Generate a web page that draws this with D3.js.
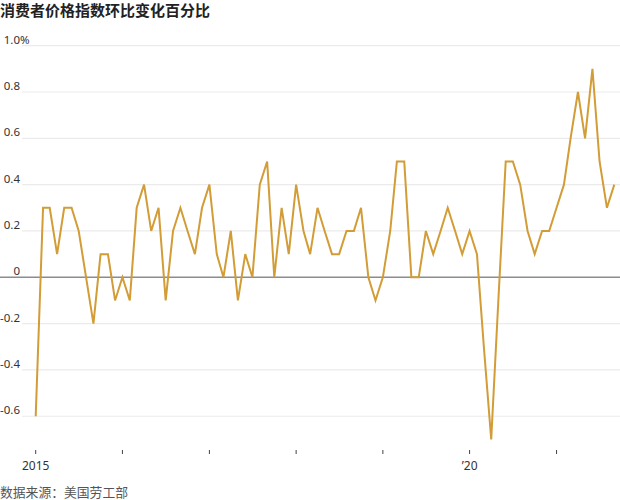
<!DOCTYPE html>
<html>
<head>
<meta charset="utf-8">
<script src="https://cdn.jsdelivr.net/npm/d3@7/dist/d3.min.js"></script>
<style>
  body { margin: 0; background: #fff; }
  svg { display: block; font-family: "Noto Sans", "Noto Sans CJK SC", sans-serif; }
</style>
</head>
<body>
<div id="chart"></div>
<script>
// #region Data
const title = '消费者价格指数环比变化百分比';
const source = '数据来源：美国劳工部';
const firstMonth = '2015-01';
const lastMonth = '2021-09';
// month-over-month CPI change, %, Jan 2015 .. Sep 2021
const cpiChange = [
  -0.6, 0.3, 0.3, 0.1, 0.3, 0.3, 0.2, 0.0, -0.2, 0.1, 0.1, -0.1,
  0.0, -0.1, 0.3, 0.4, 0.2, 0.3, -0.1, 0.2, 0.3, 0.2, 0.1, 0.3,
  0.4, 0.1, 0.0, 0.2, -0.1, 0.1, 0.0, 0.4, 0.5, 0.0, 0.3, 0.1,
  0.4, 0.2, 0.1, 0.3, 0.2, 0.1, 0.1, 0.2, 0.2, 0.3, 0.0, -0.1,
  0.0, 0.2, 0.5, 0.5, 0.0, 0.0, 0.2, 0.1, 0.2, 0.3, 0.2, 0.1,
  0.2, 0.1, -0.3, -0.7, -0.1, 0.5, 0.5, 0.4, 0.2, 0.1, 0.2, 0.2,
  0.3, 0.4, 0.6, 0.8, 0.6, 0.9, 0.5, 0.3, 0.4,
];
const yTicks = [-0.6, -0.4, -0.2, 0, 0.2, 0.4, 0.6, 0.8, 1.0];
const yTickLabels = ['-0.6', '-0.4', '-0.2', '0', '0.2', '0.4', '0.6', '0.8', '1.0'];
const xTickYears = [2015, 2016, 2017, 2018, 2019, 2020, 2021];
const xTickLabels = ['2015', '', '', '', '', '’20', ''];
// #endregion

// #region SVG setup
const width = 620;
const height = 500;
const parseMonth = d3.timeParse('%Y-%m');
const start = parseMonth(firstMonth);
const end = parseMonth(lastMonth);
const data = cpiChange.map((v, i) => ({ date: d3.timeMonth.offset(start, i), value: v }));

const chart = d3.select('#chart').append('svg')
  .attr('width', width)
  .attr('height', height);
// #endregion

// #region Scales
const x = d3.scaleTime().domain([start, end]).range([35.7, 614.3]);
const y = d3.scaleLinear().domain([-0.7, 1.0]).range([439.4, 45.7]);
// #endregion

// #region Grid and y labels
const grid = chart.append('g');
yTicks.filter(d => d !== 0).forEach(d => {
  grid.append('line')
    .attr('x1', 22).attr('x2', width)
    .attr('y1', y(d)).attr('y2', y(d))
    .attr('stroke', '#ebebeb')
    .attr('stroke-width', 1.2);
});

const yLabels = chart.append('g')
  .attr('font-size', 11.5)
  .attr('fill', '#333');
yTicks.forEach((d, i) => {
  yLabels.append('text')
    .attr('x', 20)
    .attr('y', y(d) - 2)
    .attr('text-anchor', 'end')
    .text(yTickLabels[i]);
});
yLabels.append('text')
  .attr('x', 20)
  .attr('y', y(1.0) - 2)
  .text('%');
// #endregion

// #region Zero line
chart.append('line')
  .attr('x1', 0).attr('x2', width)
  .attr('y1', y(0)).attr('y2', y(0))
  .attr('stroke', '#8c8c8c')
  .attr('stroke-width', 1.6);
// #endregion

// #region Series line
const line = d3.line()
  .x(d => x(d.date))
  .y(d => y(d.value));

chart.append('path')
  .datum(data)
  .attr('d', line)
  .attr('fill', 'none')
  .attr('stroke', '#d29c36')
  .attr('stroke-width', 2)
  .attr('stroke-linejoin', 'miter');
// #endregion

// #region X axis
const xAxis = chart.append('g');
xTickYears.forEach((yr, i) => {
  const px = x(new Date(yr, 0, 1));
  xAxis.append('line')
    .attr('x1', px).attr('x2', px)
    .attr('y1', 450).attr('y2', 454)
    .attr('stroke', '#444')
    .attr('stroke-width', 1);
  if (xTickLabels[i]) {
    xAxis.append('text')
      .attr('x', px)
      .attr('y', 470)
      .attr('text-anchor', 'middle')
      .attr('font-size', 12)
      .attr('fill', '#333')
      .text(xTickLabels[i]);
  }
});
// #endregion

// #region Title and source
chart.append('text')
  .attr('x', 0)
  .attr('y', 16)
  .attr('font-size', 15)
  .attr('font-weight', 'bold')
  .attr('font-family', '"Noto Sans CJK SC", sans-serif')
  .attr('fill', '#222')
  .text(title);

chart.append('text')
  .attr('x', 0)
  .attr('y', 497)
  .attr('font-size', 12.8)
  .attr('font-family', '"Noto Sans CJK SC", sans-serif')
  .attr('fill', '#555')
  .text(source);
// #endregion
</script>
</body>
</html>
